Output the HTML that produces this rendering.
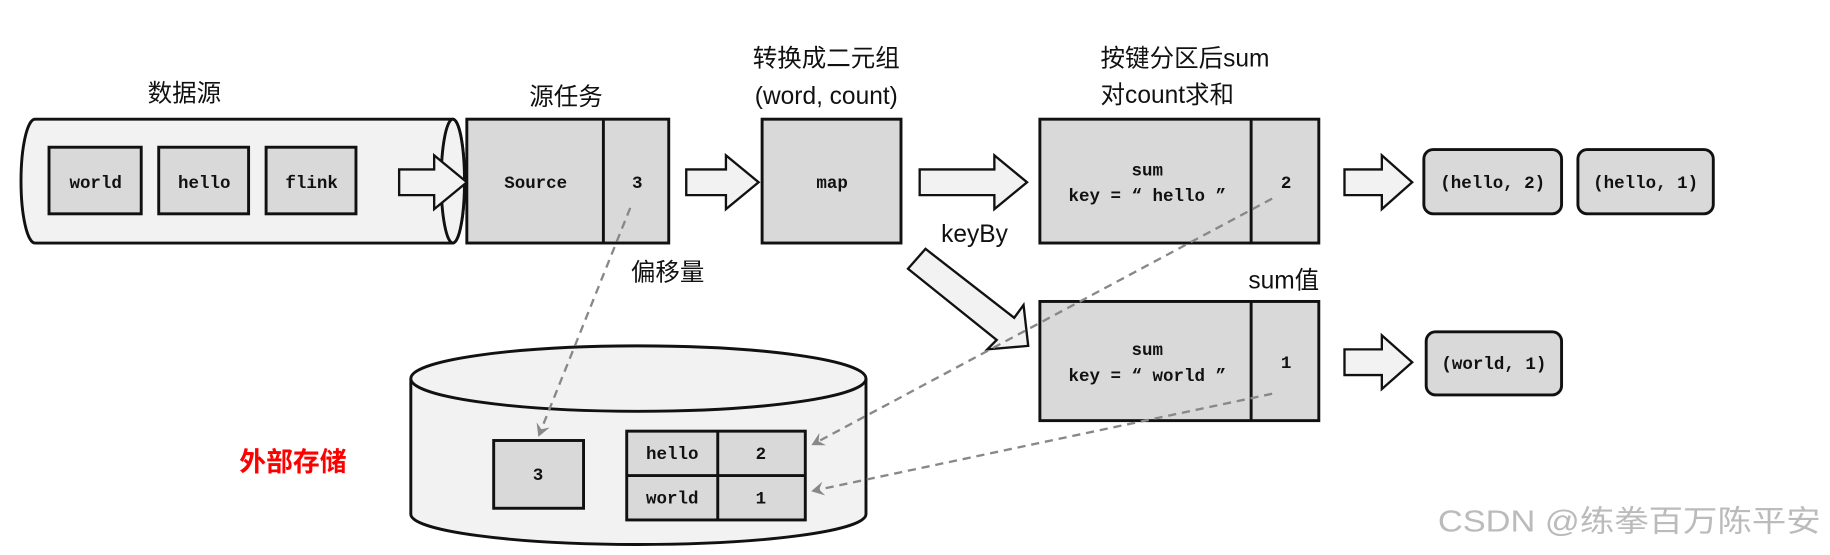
<!DOCTYPE html>
<html><head><meta charset="utf-8"><style>
html,body{margin:0;padding:0;background:#fff;}
svg{display:block;}
.m{font-family:"Liberation Mono",monospace;font-weight:bold;font-size:15px;fill:#111;}
.c{font-family:"Liberation Sans","Noto Sans CJK SC",sans-serif;font-size:21px;fill:#111;}
</style></head><body>
<svg width="1830" height="555" viewBox="0 0 1568 475" preserveAspectRatio="none" xmlns="http://www.w3.org/2000/svg">
<defs>
<marker id="ah" markerWidth="12" markerHeight="12" refX="9" refY="6" orient="auto" markerUnits="userSpaceOnUse"><path d="M0,0 L11,6 L0,12 L4,6 Z" fill="#888"/></marker>
</defs>
<g stroke="#111" stroke-width="2.5">
<path d="M30,102 L388,102 A10,53 0 0 1 388,208 L30,208 A12,53 0 0 1 30,102 Z" fill="#f2f2f2"/>
<ellipse cx="388" cy="155" rx="10" ry="53" fill="#f2f2f2"/>
<rect x="42" y="126" width="79" height="57" fill="#d9d9d9"/>
<rect x="136" y="126" width="77" height="57" fill="#d9d9d9"/>
<rect x="228" y="126" width="77" height="57" fill="#d9d9d9"/>
<g stroke-width="2" fill="#f2f2f2">
<path d="M342,145 L372,145 L372,133 L400,156 L372,179 L372,167 L342,167 Z"/>
<path d="M588,145 L622,145 L622,133 L650,156 L622,179 L622,167 L588,167 Z"/>
<path d="M788,145 L852,145 L852,133 L880,156 L852,179 L852,167 L788,167 Z"/>
<path d="M1152,145 L1184,145 L1184,133 L1210,156 L1184,179 L1184,167 L1152,167 Z"/>
<path d="M1152,299 L1184,299 L1184,287 L1210,310 L1184,333 L1184,321 L1152,321 Z"/>
<path d="M778,230 L793,213 L869,272 L877,261 L881,296 L846,299 L854,291 Z"/>
</g>
<rect x="400" y="102" width="173" height="106" fill="#d9d9d9"/>
<line x1="517" y1="102" x2="517" y2="208"/>
<rect x="653" y="102" width="119" height="106" fill="#d9d9d9"/>
<rect x="891" y="102" width="239" height="106" fill="#d9d9d9"/>
<line x1="1072" y1="102" x2="1072" y2="208"/>
<rect x="891" y="258" width="239" height="102" fill="#d9d9d9"/>
<line x1="1072" y1="258" x2="1072" y2="360"/>
<rect x="1220" y="128" width="118" height="55" rx="8" fill="#d9d9d9"/>
<rect x="1352" y="128" width="116" height="55" rx="8" fill="#d9d9d9"/>
<rect x="1222" y="284" width="116" height="54" rx="8" fill="#d9d9d9"/>
<path d="M352,324 L352,440 A195,26 0 0 0 742,440 L742,324" fill="#f2f2f2"/>
<ellipse cx="547" cy="324" rx="195" ry="28" fill="#f2f2f2"/>
<rect x="423" y="377" width="77" height="58" fill="#d9d9d9"/>
<rect x="537" y="369" width="153" height="76" fill="#d9d9d9"/>
<line x1="537" y1="407" x2="690" y2="407"/>
<line x1="615" y1="369" x2="615" y2="445"/>
</g>
<g stroke="#888" stroke-width="2" stroke-dasharray="7,5" fill="none" marker-end="url(#ah)">
<line x1="540" y1="178" x2="462" y2="372"/>
<line x1="1090" y1="170" x2="697" y2="380"/>
<line x1="1090" y1="337" x2="697" y2="420"/>
</g>
<g text-anchor="middle">
<text class="m" x="82" y="161">world</text>
<text class="m" x="175" y="161">hello</text>
<text class="m" x="267" y="161">flink</text>
<text class="m" x="459" y="161">Source</text>
<text class="m" x="546" y="161">3</text>
<text class="m" x="713" y="161">map</text>
<text class="m" x="983" y="150">sum</text>
<text class="m" x="983" y="172">key = “ hello ”</text>
<text class="m" x="1102" y="161">2</text>
<text class="m" x="983" y="304">sum</text>
<text class="m" x="983" y="326">key = “ world ”</text>
<text class="m" x="1102" y="315">1</text>
<text class="m" x="1279" y="161">(hello, 2)</text>
<text class="m" x="1410" y="161">(hello, 1)</text>
<text class="m" x="1280" y="316">(world, 1)</text>
<text class="m" x="461" y="411">3</text>
<text class="m" x="576" y="393">hello</text>
<text class="m" x="652" y="393">2</text>
<text class="m" x="576" y="431">world</text>
<text class="m" x="652" y="431">1</text>
<text class="c" x="158" y="87">数据源</text>
<text class="c" x="485" y="90">源任务</text>
<text class="c" x="708" y="57">转换成二元组</text>
<text class="c" x="708" y="89">(word, count)</text>
<text class="c" x="835" y="207">keyBy</text>
<text class="c" x="572" y="240">偏移量</text>
<text class="c" x="1100" y="247">sum值</text>
</g>
<text class="c" x="943" y="57">按键分区后sum</text>
<text class="c" x="943" y="88">对count求和</text>
<text x="205" y="403" style="font-family:'Liberation Sans','Noto Sans CJK SC',sans-serif;font-weight:bold;font-size:23px;fill:#f00;">外部存储</text>
<text x="1232" y="455" textLength="328" lengthAdjust="spacingAndGlyphs" style="font-family:'Liberation Sans','Noto Sans CJK SC',sans-serif;font-size:26px;fill:#bbb;">CSDN @练拳百万陈平安</text>
</svg>
</body></html>
